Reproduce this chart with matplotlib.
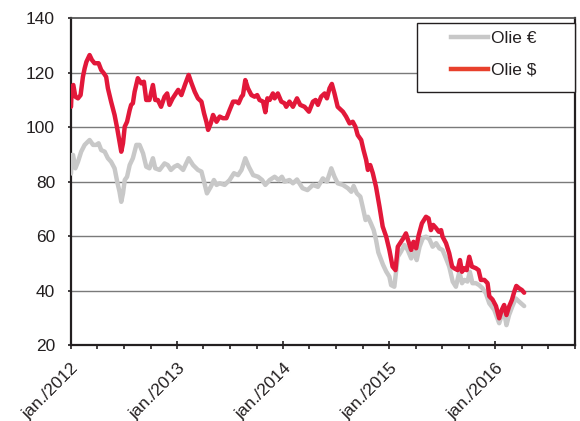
import matplotlib
matplotlib.use("Agg")
import matplotlib.pyplot as plt
import matplotlib.dates as mdates
import matplotlib.transforms as mtransforms
from matplotlib.patches import Rectangle
import pandas as pd

plt.rcParams['font.family'] = ['Liberation Sans', 'DejaVu Sans']

# Oil price, USD per barrel
usd_dates = [
    "2012-01-01", "2012-01-04", "2012-01-09", "2012-01-16", "2012-01-25", "2012-02-03",
    "2012-02-11", "2012-02-17", "2012-02-23", "2012-03-05", "2012-03-13", "2012-03-22",
    "2012-04-05", "2012-04-14", "2012-04-23", "2012-05-01", "2012-05-07", "2012-05-18",
    "2012-05-30", "2012-06-08", "2012-06-16", "2012-06-22", "2012-06-28", "2012-07-04",
    "2012-07-12", "2012-07-21", "2012-07-26", "2012-08-01", "2012-08-07", "2012-08-18",
    "2012-08-30", "2012-09-08", "2012-09-16", "2012-09-27", "2012-10-09", "2012-10-17",
    "2012-10-26", "2012-11-06", "2012-11-18", "2012-11-27", "2012-12-05", "2012-12-16",
    "2013-01-04", "2013-01-15", "2013-01-27", "2013-02-09", "2013-02-19", "2013-03-02",
    "2013-03-13", "2013-03-25", "2013-04-03", "2013-04-11", "2013-04-17", "2013-04-26",
    "2013-05-04", "2013-05-16", "2013-05-27", "2013-06-07", "2013-06-19", "2013-06-30",
    "2013-07-12", "2013-07-23", "2013-07-31", "2013-08-10", "2013-08-15", "2013-08-23",
    "2013-09-01", "2013-09-13", "2013-09-24", "2013-10-03", "2013-10-11", "2013-10-23",
    "2013-10-31", "2013-11-07", "2013-11-15", "2013-11-26", "2013-12-02", "2013-12-13",
    "2013-12-25", "2014-01-05", "2014-01-11", "2014-01-22", "2014-02-03", "2014-02-17",
    "2014-02-28", "2014-03-15", "2014-03-30", "2014-04-13", "2014-04-22", "2014-04-30",
    "2014-05-11", "2014-05-23", "2014-05-31", "2014-06-09", "2014-06-17", "2014-06-26",
    "2014-07-07", "2014-07-25", "2014-08-05", "2014-08-17", "2014-08-28", "2014-09-06",
    "2014-09-14", "2014-09-26", "2014-10-04", "2014-10-13", "2014-10-19", "2014-10-27",
    "2014-11-05", "2014-11-16", "2014-11-22", "2014-11-28", "2014-12-09", "2014-12-21",
    "2015-01-01", "2015-01-12", "2015-01-22", "2015-01-30", "2015-02-10", "2015-02-18",
    "2015-02-27", "2015-03-08", "2015-03-17", "2015-03-25", "2015-04-03", "2015-04-12",
    "2015-04-23", "2015-05-07", "2015-05-16", "2015-05-24", "2015-06-01", "2015-06-11",
    "2015-06-20", "2015-06-28", "2015-07-03", "2015-07-15", "2015-07-26", "2015-08-05",
    "2015-08-12", "2015-08-24", "2015-09-01", "2015-09-08", "2015-09-16", "2015-09-24",
    "2015-10-03", "2015-10-12", "2015-10-26", "2015-11-04", "2015-11-12", "2015-11-24",
    "2015-12-05", "2015-12-11", "2015-12-22", "2016-01-03", "2016-01-14", "2016-01-23",
    "2016-01-31", "2016-02-08", "2016-02-17", "2016-02-27", "2016-03-06", "2016-03-13",
    "2016-03-23", "2016-04-01", "2016-04-09",
]
usd_values = [
    107.5, 114.9, 115.5, 111.2, 110.6, 111.8,
    118.5, 121.6, 124.0, 126.5, 124.7, 123.5,
    123.5, 121.0, 119.8, 118.5, 114.3, 109.4,
    104.5, 99.6, 94.7, 91.0, 94.1, 100.2,
    102.0, 106.3, 108.2, 108.8, 113.0, 118.0,
    116.1, 116.7, 110.0, 110.0, 115.5, 110.0,
    110.0, 107.5, 111.2, 112.4, 108.2, 110.6,
    113.7, 111.8, 115.5, 119.2, 116.1, 113.0,
    110.6, 109.4, 105.1, 102.0, 99.0, 101.4,
    104.5, 102.0, 103.9, 103.3, 103.3, 106.3,
    109.4, 109.4, 108.8, 111.2, 111.8, 117.3,
    114.3, 111.8, 111.2, 111.8, 110.0, 109.4,
    105.5, 110.6, 110.0, 112.4, 110.6, 112.4,
    109.4, 108.8, 107.5, 109.4, 107.5, 110.6,
    108.2, 107.5, 105.7, 109.4, 110.0, 108.2,
    111.2, 112.4, 110.6, 114.3, 115.9, 112.4,
    107.5, 105.7, 103.9, 101.4, 102.0, 100.2,
    97.1, 95.3, 91.6, 88.0, 84.3, 86.1,
    83.1, 78.1, 74.5, 70.8, 63.5, 59.8,
    54.9, 48.8, 47.5, 56.1, 57.9, 59.2,
    61.0, 57.9, 54.9, 57.9, 55.5, 60.4,
    64.7, 67.1, 66.5, 62.2, 64.1, 62.9,
    61.6, 62.2, 59.8, 57.4, 53.7, 48.8,
    48.2, 47.5, 51.2, 46.9, 48.2, 47.5,
    52.4, 48.8, 48.2, 47.5, 43.9, 43.9,
    42.7, 37.9, 36.7, 34.3, 29.8, 32.9,
    34.7, 31.0, 34.1, 36.6, 39.6, 41.7,
    40.8, 40.2, 39.2,
]

# Oil price, EUR per barrel
eur_dates = [
    "2012-01-01", "2012-01-04", "2012-01-08", "2012-01-16", "2012-01-25", "2012-02-05",
    "2012-02-17", "2012-03-05", "2012-03-17", "2012-03-28", "2012-04-05", "2012-04-14",
    "2012-04-26", "2012-05-07", "2012-05-18", "2012-05-30", "2012-06-08", "2012-06-16",
    "2012-06-22", "2012-06-28", "2012-07-04", "2012-07-12", "2012-07-21", "2012-08-01",
    "2012-08-13", "2012-08-24", "2012-09-05", "2012-09-16", "2012-09-27", "2012-10-09",
    "2012-10-17", "2012-11-01", "2012-11-18", "2012-11-29", "2012-12-10", "2012-12-22",
    "2013-01-02", "2013-01-09", "2013-01-21", "2013-02-09", "2013-02-24", "2013-03-13",
    "2013-03-25", "2013-04-03", "2013-04-13", "2013-04-26", "2013-05-07", "2013-05-16",
    "2013-05-27", "2013-06-13", "2013-06-30", "2013-07-15", "2013-07-29", "2013-08-10",
    "2013-08-23", "2013-09-04", "2013-09-19", "2013-10-06", "2013-10-20", "2013-10-31",
    "2013-11-15", "2013-12-02", "2013-12-16", "2013-12-27", "2014-01-05", "2014-01-22",
    "2014-02-03", "2014-02-17", "2014-03-08", "2014-03-25", "2014-04-13", "2014-04-30",
    "2014-05-17", "2014-05-31", "2014-06-15", "2014-06-26", "2014-07-07", "2014-07-25",
    "2014-08-11", "2014-08-23", "2014-08-31", "2014-09-11", "2014-09-23", "2014-10-01",
    "2014-10-11", "2014-10-19", "2014-10-28", "2014-11-08", "2014-11-16", "2014-11-24",
    "2014-12-10", "2014-12-21", "2015-01-01", "2015-01-07", "2015-01-18", "2015-01-30",
    "2015-02-10", "2015-02-22", "2015-03-05", "2015-03-17", "2015-03-28", "2015-04-05",
    "2015-04-15", "2015-04-26", "2015-05-07", "2015-05-19", "2015-05-30", "2015-06-11",
    "2015-06-22", "2015-07-03", "2015-07-15", "2015-07-26", "2015-08-07", "2015-08-18",
    "2015-08-30", "2015-09-08", "2015-09-16", "2015-09-27", "2015-10-05", "2015-10-14",
    "2015-10-26", "2015-11-06", "2015-11-18", "2015-11-29", "2015-12-11", "2015-12-28",
    "2016-01-14", "2016-01-23", "2016-01-31", "2016-02-08", "2016-02-17", "2016-02-28",
    "2016-03-11", "2016-03-23", "2016-04-09",
]
eur_values = [
    83.0, 89.8, 89.8, 84.9, 87.3, 91.0,
    93.5, 95.3, 93.5, 93.5, 94.1, 91.6,
    91.0, 88.6, 87.3, 84.9, 80.0, 76.3,
    72.6, 75.7, 80.6, 81.8, 86.1, 88.6,
    93.5, 93.5, 90.4, 85.5, 84.9, 88.6,
    84.9, 84.3, 86.7, 86.1, 84.3, 85.5,
    86.1, 85.5, 84.3, 88.6, 86.1, 84.3,
    83.7, 80.0, 75.7, 78.1, 80.6, 78.8,
    79.4, 78.8, 80.6, 83.1, 82.4, 84.3,
    88.6, 85.5, 82.4, 81.8, 80.6, 78.8,
    80.6, 81.8, 80.6, 81.8, 80.0, 80.6,
    79.4, 80.8, 77.6, 76.9, 78.8, 78.1,
    81.2, 80.0, 84.9, 81.8, 79.4, 78.8,
    77.6, 76.3, 78.4, 75.7, 74.5, 70.8,
    65.9, 67.1, 65.0, 62.2, 58.6, 54.0,
    49.5, 47.0, 45.1, 42.0, 41.4, 52.4,
    54.3, 56.7, 54.9, 51.8, 54.3, 51.2,
    56.1, 59.2, 59.8, 58.8, 56.1, 57.4,
    55.5, 54.9, 51.8, 48.8, 43.3, 41.4,
    46.9, 42.7, 43.9, 43.3, 46.9, 42.7,
    42.7, 42.0, 40.8, 39.0, 35.3, 32.9,
    28.0, 31.0, 32.2, 27.3, 31.0, 34.1,
    37.1, 35.9, 34.3,
]

series_labels = ["Olie €", "Olie $"]
year_ticks = ["2012-01-01", "2013-01-01", "2014-01-01", "2015-01-01", "2016-01-01"]
year_tick_labels = ["jan./2012", "jan./2013", "jan./2014", "jan./2015", "jan./2016"]
y_ticks = [20, 40, 60, 80, 100, 120, 140]

gray = "#c8c8c8"
red = "#e2183a"
red_legend = "#e8402c"
text_color = "#231f20"
line_width = 3.2

fig = plt.figure(figsize=(5.80, 4.21), dpi=100)
ax = fig.add_axes([71 / 580, 1 - 345 / 421, (575 - 71) / 580, (345 - 18.3) / 421])

ax.plot(pd.to_datetime(eur_dates), eur_values, color=gray, lw=line_width,
        solid_joinstyle="round", solid_capstyle="round", zorder=3)
ax.plot(pd.to_datetime(usd_dates), usd_values, color=red, lw=line_width,
        solid_joinstyle="round", solid_capstyle="round", zorder=4)

ax.set_ylim(20, 140)
ax.set_xlim(pd.Timestamp("2012-01-01"), pd.Timestamp("2016-10-01"))

ax.set_yticks(y_ticks)
ax.set_yticklabels([str(v) for v in y_ticks])
for v in y_ticks[1:-1]:
    ax.axhline(v, color="#7a7a7a", lw=1.0, zorder=1)

ax.set_xticks(pd.to_datetime(year_ticks))
ax.set_xticklabels(year_tick_labels, rotation=45, ha="right", va="top",
                   rotation_mode="anchor")
ax.xaxis.set_minor_locator(mdates.MonthLocator(bymonth=[1, 4, 7, 10]))
shift = mtransforms.ScaledTranslation(4 / 100, 0, fig.dpi_scale_trans)
for lbl in ax.get_xticklabels():
    lbl.set_transform(lbl.get_transform() + shift)

ax.tick_params(axis="y", which="major", direction="out", length=2.5, width=1.2,
               labelsize=12.5, labelcolor=text_color, pad=9, color="#231f20")
ax.tick_params(axis="x", which="major", direction="inout", length=6, width=1.2,
               labelsize=12.5, labelcolor=text_color, pad=8.5, color="#231f20")
ax.tick_params(axis="x", which="minor", direction="out", length=3, width=1.2,
               color="#231f20")

for side in ["left", "bottom", "right"]:
    ax.spines[side].set_linewidth(1.6)
    ax.spines[side].set_color("#231f20")
ax.spines["top"].set_linewidth(1.2)
ax.spines["top"].set_color("#4a4a4a")

# Legend box in the upper right corner
box = Rectangle((417 / 580, 1 - 92 / 421), 158 / 580, 69 / 421,
                transform=fig.transFigure, facecolor="white",
                edgecolor="#231f20", lw=1.0, zorder=5, clip_on=False)
ax.add_patch(box)
handles = [
    plt.Line2D([], [], color=gray, lw=line_width),
    plt.Line2D([], [], color=red_legend, lw=line_width),
]
leg = ax.legend(handles, series_labels, loc="upper left",
                bbox_to_anchor=(451 / 580, 1 - 31 / 421),
                bbox_transform=fig.transFigure, frameon=False,
                fontsize=12.5, handlelength=2.15, handletextpad=0.15,
                labelspacing=0.95, borderpad=0, borderaxespad=0)
for t in leg.get_texts():
    t.set_color(text_color)
leg.set_zorder(6)

fig.savefig("out.png", dpi=100, facecolor="white")
